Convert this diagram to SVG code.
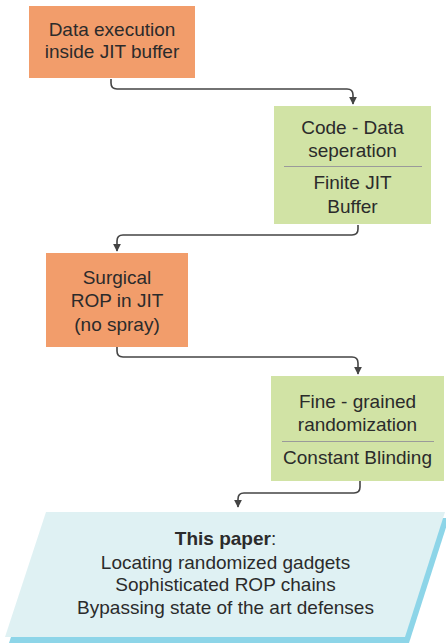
<svg xmlns="http://www.w3.org/2000/svg" width="446" height="643" viewBox="0 0 446 643">
<defs>
<style>
.t{font-family:"Liberation Sans",Arial,sans-serif;font-size:19px;fill:#2b2b2b;text-anchor:middle}
.b{font-weight:bold}
.or{fill:#f29d6b}
.gr{fill:#d1e3a5}
.div{stroke:#9a9a9a;stroke-width:1}
.c{fill:none;stroke:#444;stroke-width:1.6}
</style>
<marker id="ah" viewBox="0 0 10 10" refX="9" refY="5" markerWidth="8" markerHeight="8" markerUnits="userSpaceOnUse" orient="auto">
<path d="M0,0 L10,5 L0,10 z" fill="#444"/>
</marker>
</defs>
<g id="connectors">
<path class="c" d="M111,79 V83 Q111,89 117,89 H347 Q353,89 353,95 V104" marker-end="url(#ah)"/>
<path class="c" d="M358,225 V229 Q358,235 352,235 H123 Q117,235 117,241 V251" marker-end="url(#ah)"/>
<path class="c" d="M117,347 V351 Q117,357 123,357 H352 Q358,357 358,363 V374" marker-end="url(#ah)"/>
<path class="c" d="M360,481 V487 Q360,493 354,493 H244 Q238,493 238,499 V507" marker-end="url(#ah)"/>
</g>
<g id="n1">
<rect class="or" x="29" y="6" width="166" height="72"/>
<text class="t" x="112" y="36">Data execution</text>
<text class="t" x="112" y="58">inside JIT buffer</text>
</g>
<g id="n2">
<rect class="gr" x="274" y="106" width="157" height="118"/>
<text class="t" x="352.5" y="134">Code - Data</text>
<text class="t" x="352.5" y="157">seperation</text>
<line class="div" x1="284" y1="166.5" x2="422" y2="166.5"/>
<text class="t" x="352.5" y="189">Finite JIT</text>
<text class="t" x="352.5" y="213">Buffer</text>
</g>
<g id="n3">
<rect class="or" x="46" y="253" width="142" height="94"/>
<text class="t" x="117" y="283.5">Surgical</text>
<text class="t" x="117" y="307">ROP in JIT</text>
<text class="t" x="117" y="331">(no spray)</text>
</g>
<g id="n4">
<rect class="gr" x="271" y="376" width="173" height="105"/>
<text class="t" x="357.5" y="408">Fine - grained</text>
<text class="t" x="357.5" y="431">randomization</text>
<line class="div" x1="282" y1="441.5" x2="434" y2="441.5"/>
<text class="t" x="357.5" y="463.5">Constant Blinding</text>
</g>
<g id="n5">
<polygon points="50,518 449,518 409,643 9,643" fill="#8dd5e8"/>
<polygon points="46,512 445,512 405,637 5,637" fill="#dff1f3"/>
<text class="t" x="225.5" y="545"><tspan class="b">This paper</tspan>:</text>
<text class="t" x="225.5" y="568.5">Locating randomized gadgets</text>
<text class="t" x="225.5" y="591">Sophisticated ROP chains</text>
<text class="t" x="225.5" y="613.5">Bypassing state of the art defenses</text>
</g>
</svg>
